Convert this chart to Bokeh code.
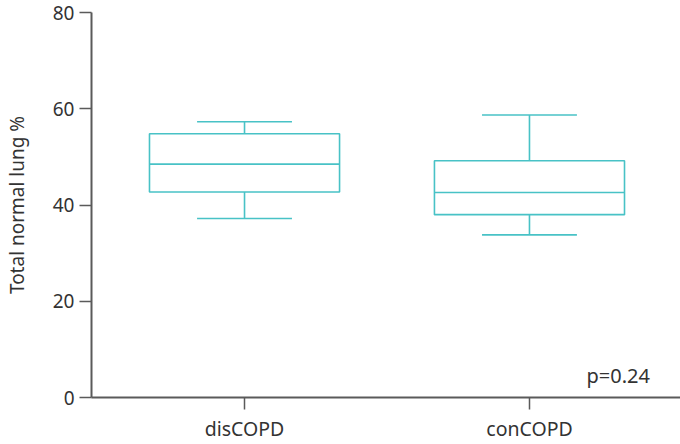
from bokeh.plotting import figure
from bokeh.models import FixedTicker, Label, ColumnDataSource
from bokeh.embed import file_html
from bokeh.resources import INLINE

categories = ["disCOPD", "conCOPD"]
whisker_low = [37.2, 33.8]
q1 = [42.7, 38.0]
median = [48.5, 42.6]
q3 = [54.8, 49.2]
whisker_high = [57.3, 58.7]
y_ticks = [0, 20, 40, 60, 80]
p_text = "p=0.24"

COLOR = "#48C2C6"
AXIS = "#5a5a5a"
FONT = "Noto Sans"

pos = [1, 2]
bw = 0.667
cw = 0.333

src = ColumnDataSource(dict(
    x=pos,
    left=[x - bw / 2 for x in pos], right=[x + bw / 2 for x in pos],
    cl=[x - cw / 2 for x in pos], cr=[x + cw / 2 for x in pos],
    lo=whisker_low, q1=q1, med=median, q3=q3, hi=whisker_high,
))

p = figure(width=680, height=444, output_backend="svg", toolbar_location=None,
           x_range=(0.463, 2.530), y_range=(0, 80),
           min_border_left=91, min_border_right=0, min_border_top=12, min_border_bottom=46)
p.grid.visible = False
p.outline_line_color = None
p.background_fill_color = "white"
p.border_fill_color = "white"

lw = 1.6
p.quad(left="left", right="right", bottom="q1", top="q3", source=src,
       fill_color=None, line_color=COLOR, line_width=lw)
p.segment(x0="left", x1="right", y0="med", y1="med", source=src, line_color=COLOR, line_width=lw)
p.segment(x0="x", x1="x", y0="q3", y1="hi", source=src, line_color=COLOR, line_width=lw)
p.segment(x0="x", x1="x", y0="lo", y1="q1", source=src, line_color=COLOR, line_width=lw)
p.segment(x0="cl", x1="cr", y0="hi", y1="hi", source=src, line_color=COLOR, line_width=lw)
p.segment(x0="cl", x1="cr", y0="lo", y1="lo", source=src, line_color=COLOR, line_width=lw)

p.xaxis.ticker = FixedTicker(ticks=pos)
p.xaxis.major_label_overrides = {x: c for x, c in zip(pos, categories)}
p.yaxis.ticker = FixedTicker(ticks=y_ticks)
p.yaxis.axis_label = "Total normal lung %"

for ax in (p.xaxis[0], p.yaxis[0]):
    ax.axis_line_color = AXIS
    ax.axis_line_width = 2
    ax.major_tick_line_color = AXIS
    ax.major_tick_line_width = 1.5
    ax.major_tick_out = 12
    ax.major_tick_in = 0
    ax.minor_tick_line_color = None
    ax.major_label_text_font = FONT
    ax.major_label_text_color = "#333333"
    ax.axis_label_text_font = FONT
    ax.axis_label_text_font_size = "19px"
    ax.axis_label_text_font_style = "normal"
    ax.axis_label_text_color = "#333333"

p.xaxis.major_label_text_font_size = "19.5px"
p.yaxis.major_label_text_font_size = "19px"
p.xaxis.major_label_standoff = 5
p.yaxis.major_label_standoff = 5
p.yaxis.axis_label_standoff = 20

p.add_layout(Label(x=2.2, y=4.5, text=p_text, text_font=FONT, text_font_size="20px",
                   text_color="#333333", text_baseline="alphabetic"))

open("out.html", "w").write(file_html(p, INLINE))
